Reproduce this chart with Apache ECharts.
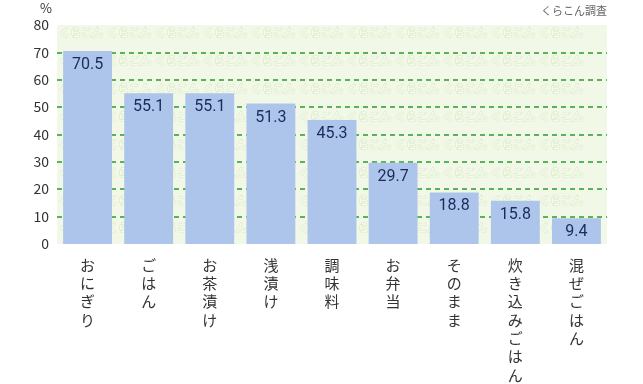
<!DOCTYPE html>
<html><head><meta charset="utf-8">
<script src="https://cdn.jsdelivr.net/npm/echarts@6/dist/echarts.min.js"></script>
<style>html,body{margin:0;padding:0;background:#fff}#c{width:643px;height:384px}</style>
</head><body><div id="c"></div>
<script>
const categories = ['おにぎり','ごはん','お茶漬け','浅漬け','調味料','お弁当','そのまま','炊き込みごはん','混ぜごはん'];
const values = [70.5, 55.1, 55.1, 51.3, 45.3, 29.7, 18.8, 15.8, 9.4];
const yTicks = [0,10,20,30,40,50,60,70,80];

const chart = echarts.init(document.getElementById('c'), null, {renderer:'canvas'});
const FONT = '"Noto Sans CJK JP","Noto Sans",sans-serif';
const gl = 57, gr = 643-607, gt = 25, gb = 384-250;

// decorative watermark pattern
const wm = [];
for (let r = 0; r < 8; r++) {
  for (let c = 0; c < 12; c++) {
    const x = gl + 2 + c*48;
    const y = gt + 8 + r*27.9;
    if (x + 44 > 607) continue;
    wm.push({type:'text', x:x, y:y, z:1, silent:true,
      style:{text:'くらこん', fill:'#f6faef', stroke:'#d8eac2', lineWidth:1.2, font:'bold 11px '+FONT, textVerticalAlign:'middle'}});
  }
}

chart.setOption({
  animation:false,
  backgroundColor:'#fff',
  grid:{left:gl, right:gr, top:gt, bottom:gb, show:true, backgroundColor:'#f2f8e7', borderWidth:0},
  graphic:[
    {type:'text', left:40, top:2, style:{text:'%', fill:'#333', font:'13px '+FONT}},
    {type:'text', right:36, top:5, style:{text:'くらこん調査', fill:'#666', font:'11px '+FONT}},
    ...wm
  ],
  xAxis:{type:'category', data:categories,
    axisLine:{show:false}, axisTick:{show:false},
    axisLabel:{interval:0, margin:12, color:'#333', fontSize:15, lineHeight:18.3, fontFamily:FONT,
      verticalAlign:'top',
      formatter:v=>v.split('').join('\n')}},
  yAxis:{type:'value', min:yTicks[0], max:yTicks[yTicks.length-1], interval:10, z:3,
    axisLine:{show:false}, axisTick:{show:false},
    axisLabel:{color:'#333', fontSize:14, fontFamily:FONT, margin:8},
    splitLine:{show:true, showMinLine:false, showMaxLine:false, lineStyle:{type:[5,4], color:'#2a9a2a', width:1.6}}},
  series:[{type:'bar', data:values, barCategoryGap:'20%', z:4,
    itemStyle:{color:'#adc5ea'},
    label:{show:true, position:'insideTop', distance:6, color:'#1b2b5e', fontSize:16, fontFamily:'Roboto,"Noto Sans",sans-serif',
      formatter:p=>p.value.toFixed(1)}}]
});
</script></body></html>
